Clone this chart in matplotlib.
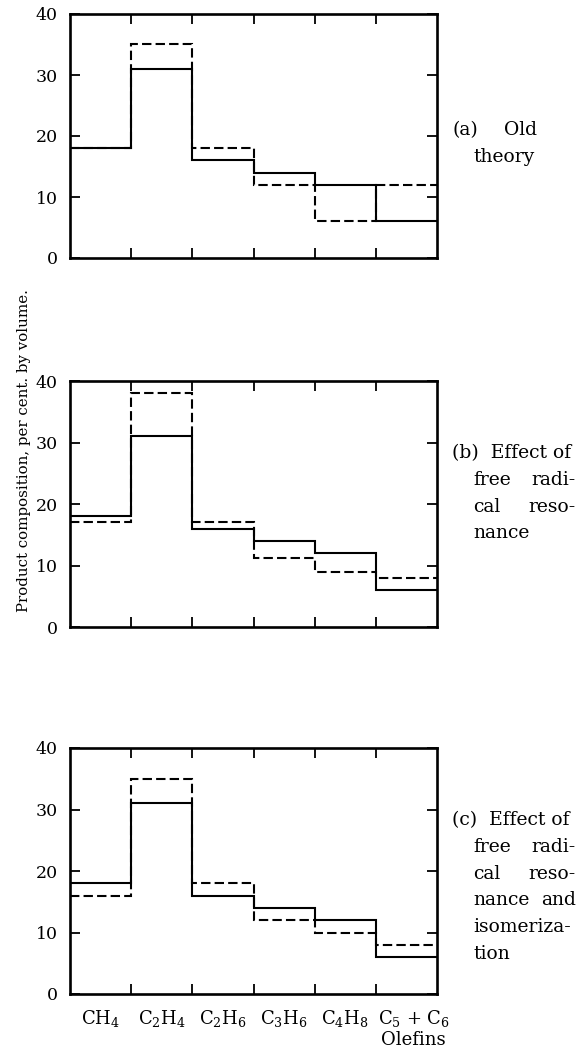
import numpy as np
import matplotlib
matplotlib.use('Agg')
import matplotlib.pyplot as plt

# Product composition (per cent by volume)
categories = ['CH$_4$', 'C$_2$H$_4$', 'C$_2$H$_6$', 'C$_3$H$_6$', 'C$_4$H$_8$', 'C$_5$ + C$_6$\nOlefins']
solid_a = [18, 31, 16, 14, 12, 6]
dashed_a = [18, 35, 18, 12, 6, 12]
solid_b = [18, 31, 16, 14, 12, 6]
dashed_b = [17, 38, 17, 11.3, 9, 8]
solid_c = [18, 31, 16, 14, 12, 6]
dashed_c = [16, 35, 18, 12, 10, 8]
y_ticks = [0, 10, 20, 30, 40]

panel_text = [
    [('(a)', 'Old'), ('theory', None)],
    [('(b)  Effect of', None), ('free', 'radi-'), ('cal', 'reso-'), ('nance', None)],
    [('(c)  Effect of', None), ('free', 'radi-'), ('cal', 'reso-'), ('nance', 'and'),
     ('isomeriza-', None), ('tion', None)],
]

plt.rcParams['font.family'] = 'DejaVu Serif'
plt.rcParams['mathtext.fontset'] = 'dejavuserif'

W, H = 581, 1055
fig = plt.figure(figsize=(W / 100, H / 100), dpi=100)

# axes boxes in pixels: left, top, right, bottom
boxes = [(70, 14, 437, 258), (70, 381, 437, 627), (70, 748, 437, 994)]
series = [(solid_a, dashed_a), (solid_b, dashed_b), (solid_c, dashed_c)]
edges = np.arange(len(categories) + 1)

for i, ((l, t, r, b), (solid, dashed)) in enumerate(zip(boxes, series)):
    ax = fig.add_axes([l / W, 1 - b / H, (r - l) / W, (b - t) / H])
    ax.stairs(dashed, edges, baseline=None, color='black', lw=1.5,
              linestyle=(0, (4.5, 2)))
    ax.stairs(solid, edges, baseline=None, color='black', lw=1.5)
    ax.set_xlim(0, len(categories))
    ax.set_ylim(0, 40)
    ax.set_yticks(y_ticks)
    ax.set_xticks(edges[1:-1])
    ax.set_xticklabels([])
    ax.tick_params(direction='in', length=7.5, width=1.3, top=True, right=True,
                   labelsize=12.5, pad=9)
    for s in ax.spines.values():
        s.set_linewidth(1.9)

    # side description, justified lines
    x0, x1, x2 = 452 / W, 473 / W, 576 / W
    y0 = (t + 121) if i == 0 else (t + 77)
    for j, (left, right) in enumerate(panel_text[i]):
        yy = 1 - (y0 + j * 26.8) / H
        fig.text(x0 if j == 0 else x1, yy, left, fontsize=13.5, va='baseline')
        if right is not None:
            fig.text(537 / W if i == 0 else x2, yy, right, fontsize=13.5,
                     va='baseline', ha='right')

    if i == 2:
        xt = ax.get_xaxis_transform()
        for k, lab in enumerate(categories):
            if k < len(categories) - 1:
                ax.text(k + 0.5, -0.055, lab, transform=xt, ha='center', va='top',
                        fontsize=13)
            else:
                ax.text(k + 0.03, -0.055, lab, transform=xt, ha='left', va='top',
                        fontsize=13, multialignment='center', linespacing=1.2)

fig.text(24 / W, 1 - 451 / H, 'Product composition, per cent. by volume.',
         rotation=90, ha='center', va='center', fontsize=10.8)

fig.savefig('out.png', dpi=100)
